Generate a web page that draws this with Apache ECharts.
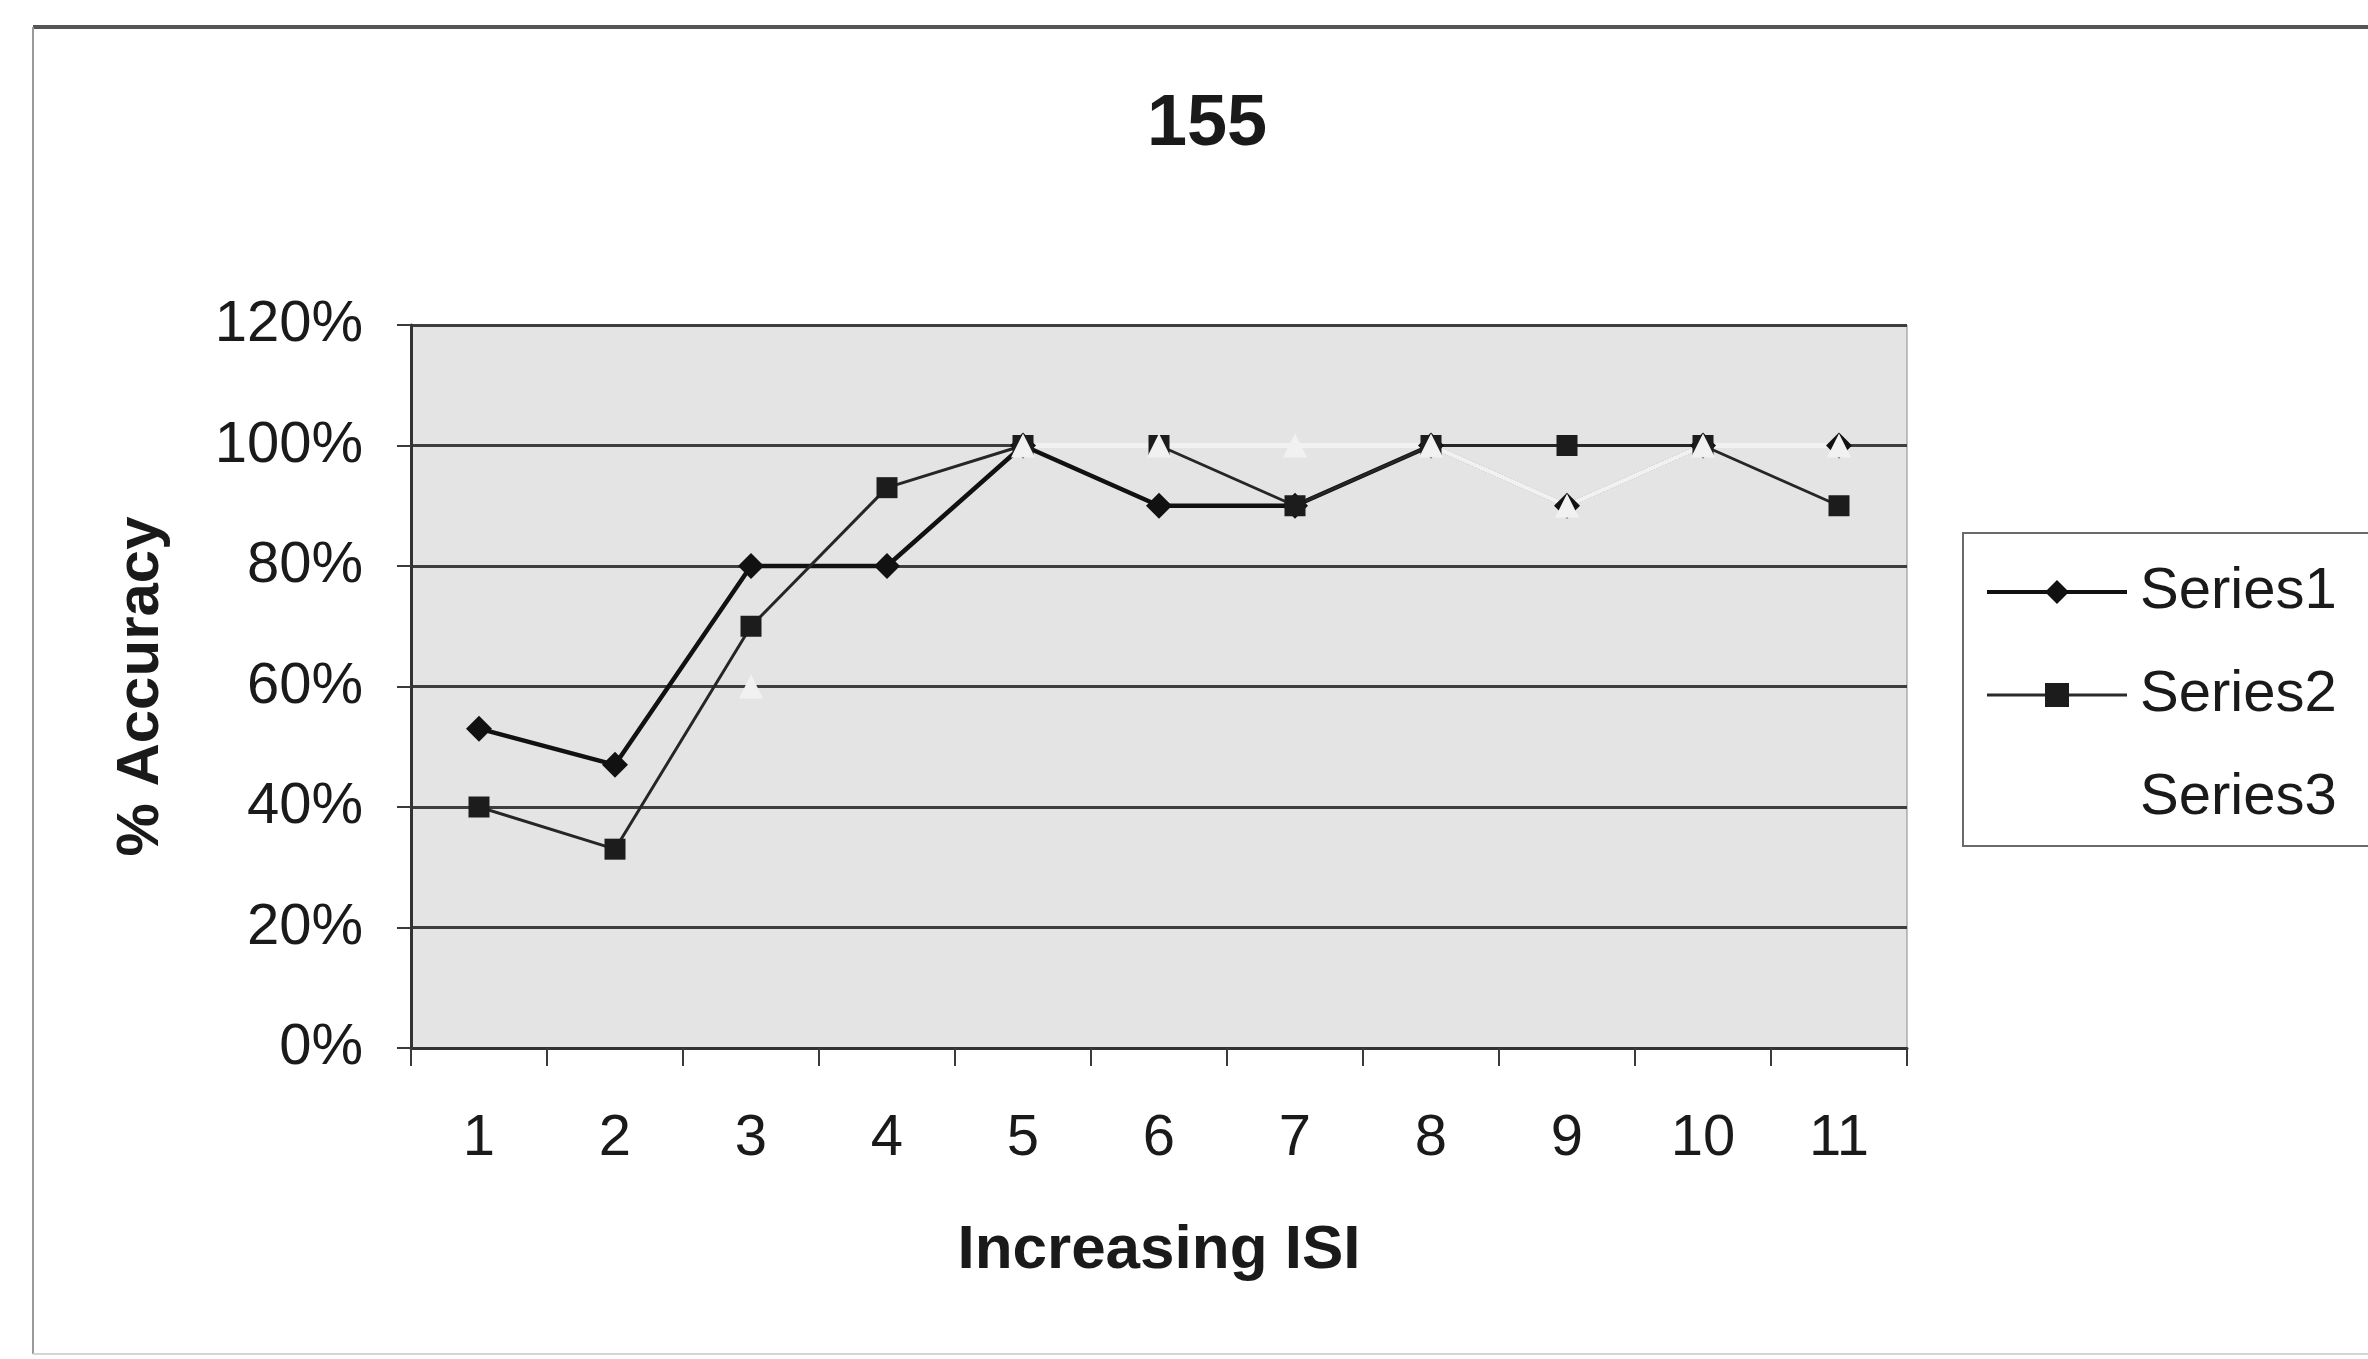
<!DOCTYPE html>
<html>
<head>
<meta charset="utf-8">
<title>155</title>
<script src="https://cdn.jsdelivr.net/npm/echarts@6/dist/echarts.min.js"></script>
<style>
  html, body { margin: 0; padding: 0; background: #ffffff; }
  #chart { width: 2368px; height: 1359px; }
</style>
</head>
<body>
<div id="chart"></div>
<script>
// ISI steps on the x axis
var categories = ['1', '2', '3', '4', '5', '6', '7', '8', '9', '10', '11'];

// Accuracy per ISI step (fractions, shown as percentages)
var series1 = [0.53, 0.47, 0.80, 0.80, 1.00, 0.90, 0.90, 1.00, 0.90, 1.00, 1.00];
var series2 = [0.40, 0.33, 0.70, 0.93, 1.00, 1.00, 0.90, 1.00, 1.00, 1.00, 0.90];
var series3 = [null, null, 0.60, null, 1.00, 1.00, 1.00, 1.00, 0.90, 1.00, 1.00];

var seriesNames = ['Series1', 'Series2', 'Series3'];

var FONT = '"Liberation Sans", Arial, Helvetica, sans-serif';
var INK = '#1a1a1a';
var PLOT_BG = '#e4e4e4';
var PALE = '#f1f1f1';

var chart = echarts.init(document.getElementById('chart'), null, { renderer: 'canvas' });

chart.setOption({
  backgroundColor: '#ffffff',
  animation: false,
  title: {
    text: '155',
    left: 1202,
    top: 84,
    textAlign: 'center',
    textStyle: { fontFamily: FONT, fontSize: 72, fontWeight: 'bold', color: INK }
  },
  graphic: [
    // chart-area frame
    { type: 'line', shape: { x1: 33, y1: 27, x2: 2368, y2: 27 }, style: { stroke: '#555555', lineWidth: 4 }, z: 0 },
    { type: 'line', shape: { x1: 33, y1: 27, x2: 33, y2: 1354 }, style: { stroke: '#9a9a9a', lineWidth: 2 }, z: 0 },
    { type: 'line', shape: { x1: 33, y1: 1354, x2: 2368, y2: 1354 }, style: { stroke: '#d4d4d4', lineWidth: 2 }, z: 0 }
  ],
  legend: {
    orient: 'vertical',
    left: 1963,
    top: 533,
    data: [
      { name: seriesNames[0], lineStyle: { width: 4, color: '#111111' } },
      { name: seriesNames[1], lineStyle: { width: 3, color: '#2a2a2a' } },
      // white on the white legend box
      { name: seriesNames[2], lineStyle: { color: '#ffffff' }, itemStyle: { color: '#ffffff' } }
    ],
    itemWidth: 140,
    itemHeight: 30,
    itemGap: 43,
    padding: [29, 300, 18, 22],
    borderColor: '#6a6a6a',
    borderWidth: 2,
    backgroundColor: '#ffffff',
    textStyle: { fontFamily: FONT, fontSize: 58, color: INK, lineHeight: 60, padding: [0, 0, 0, 8] }
  },
  grid: {
    left: 411,
    top: 325,
    width: 1496,
    height: 723,
    show: true,
    backgroundColor: PLOT_BG,
    borderColor: '#8a8a8a',
    borderWidth: 1
  },
  xAxis: {
    type: 'category',
    data: categories,
    boundaryGap: true,
    name: 'Increasing ISI',
    nameLocation: 'middle',
    nameGap: 172,
    nameTextStyle: { fontFamily: FONT, fontSize: 62, fontWeight: 'bold', color: INK },
    axisLine: { show: true, lineStyle: { color: '#333333', width: 3 } },
    axisTick: { show: true, interval: 0, alignWithLabel: false, inside: false, length: 18, lineStyle: { color: '#3a3a3a', width: 2 } },
    axisLabel: { interval: 0, margin: 62, fontFamily: FONT, fontSize: 58, color: INK },
    splitLine: { show: false }
  },
  yAxis: {
    type: 'value',
    min: 0,
    max: 1.2,
    interval: 0.2,
    name: '% Accuracy',
    nameLocation: 'middle',
    nameRotate: 90,
    nameGap: 240,
    nameTextStyle: { fontFamily: FONT, fontSize: 60, fontWeight: 'bold', color: INK },
    axisLine: { show: true, lineStyle: { color: '#333333', width: 3 } },
    axisTick: { show: true, inside: false, length: 14, lineStyle: { color: '#3a3a3a', width: 2 } },
    axisLabel: {
      margin: 48,
      fontFamily: FONT,
      fontSize: 58,
      color: INK,
      formatter: function (v) { return Math.round(v * 100) + '%'; }
    },
    splitLine: { show: true, lineStyle: { color: '#3e3e3e', width: 3 } }
  },
  series: [
    {
      name: seriesNames[0],
      type: 'line',
      data: series1,
      symbol: 'diamond',
      symbolSize: 26,
      showAllSymbol: true,
      lineStyle: { color: '#111111', width: 4.5 },
      itemStyle: { color: '#111111' }
    },
    {
      name: seriesNames[1],
      type: 'line',
      data: series2,
      symbol: 'rect',
      symbolSize: 21,
      showAllSymbol: true,
      lineStyle: { color: '#262626', width: 3 },
      itemStyle: { color: '#1c1c1c' }
    },
    {
      name: seriesNames[2],
      type: 'line',
      data: series3,
      symbol: 'triangle',
      symbolSize: 24,
      showAllSymbol: true,
      connectNulls: false,
      lineStyle: { color: PALE, width: 5 },
      itemStyle: { color: PALE }
    }
  ]
});
</script>
</body>
</html>
